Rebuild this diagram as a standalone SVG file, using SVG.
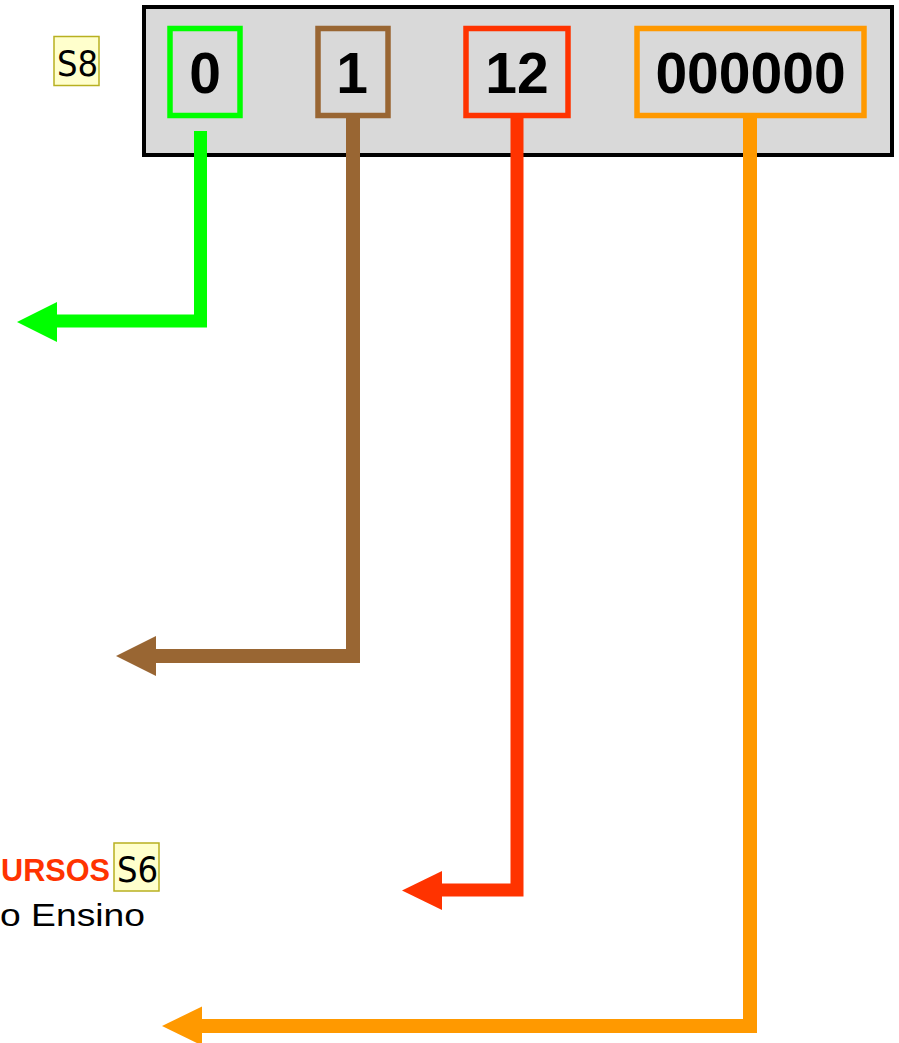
<svg xmlns="http://www.w3.org/2000/svg" width="899" height="1043" viewBox="0 0 899 1043">
<style>
.frame{fill:#d9d9d9;stroke:#000;stroke-width:4}
.fld{fill:none;stroke-width:5.5}
.num{font-family:"Liberation Sans",Arial,sans-serif;font-weight:bold;font-size:57px;text-anchor:middle;fill:#000}
.tag{fill:#ffffcc;stroke:#b8b020;stroke-width:1.5}
.tagt{font-family:"DejaVu Sans Condensed","DejaVu Sans",sans-serif;font-stretch:condensed;font-size:36px;fill:#000}
.ln{fill:none;stroke-linejoin:miter;stroke-linecap:butt}
</style>
<rect width="899" height="1043" fill="#fff"/>
<g id="frame">
<rect class="frame" x="144" y="7" width="748" height="148"/>
</g>
<g id="tagS8">
<rect class="tag" x="54" y="36.5" width="45" height="49"/>
<text class="tagt" x="57" y="76">S8</text>
</g>
<g id="field0">
<rect class="fld" stroke="#00ff00" x="170" y="28.5" width="70" height="87"/>
<text class="num" x="205" y="93">0</text>
</g>
<g id="field1">
<rect class="fld" stroke="#996633" x="318" y="28.5" width="70" height="87"/>
<text class="num" x="352" y="93">1</text>
</g>
<g id="field12">
<rect class="fld" stroke="#ff3300" x="466" y="28.5" width="102" height="87"/>
<text class="num" x="517" y="93">12</text>
</g>
<g id="field000000">
<rect class="fld" stroke="#ff9900" x="637" y="28.5" width="227" height="87"/>
<text class="num" x="750.5" y="93">000000</text>
</g>
<g id="connectors">
<polyline class="ln" stroke="#00ff00" stroke-width="13" points="200.5,131 200.5,321 56,321"/>
<polygon fill="#00ff00" points="57,302 17,322 57,342"/>
<polyline class="ln" stroke="#996633" stroke-width="14" points="353,116 353,656 156,656"/>
<polygon fill="#996633" points="156,636 116,656 156,676"/>
<polyline class="ln" stroke="#ff3300" stroke-width="13" points="517,116 517,890 441,890"/>
<polygon fill="#ff3300" points="442,871 402,890.5 442,910"/>
<polyline class="ln" stroke="#ff9900" stroke-width="14" points="750,116 750,1026 201,1026"/>
<polygon fill="#ff9900" points="202,1006.5 162,1026 202,1045.5"/>
</g>
<g id="cursos">
<text x="1" y="881" font-family="Liberation Sans,Arial,sans-serif" font-weight="bold" font-size="32" fill="#ff3300" textLength="109" lengthAdjust="spacingAndGlyphs">URSOS</text>
<text x="0" y="926" font-family="Liberation Sans,Arial,sans-serif" font-size="32" fill="#000" textLength="145" lengthAdjust="spacingAndGlyphs">o Ensino</text>
</g>
<g id="tagS6">
<rect class="tag" x="114" y="843" width="45" height="48"/>
<text class="tagt" x="117" y="882">S6</text>
</g>
</svg>
